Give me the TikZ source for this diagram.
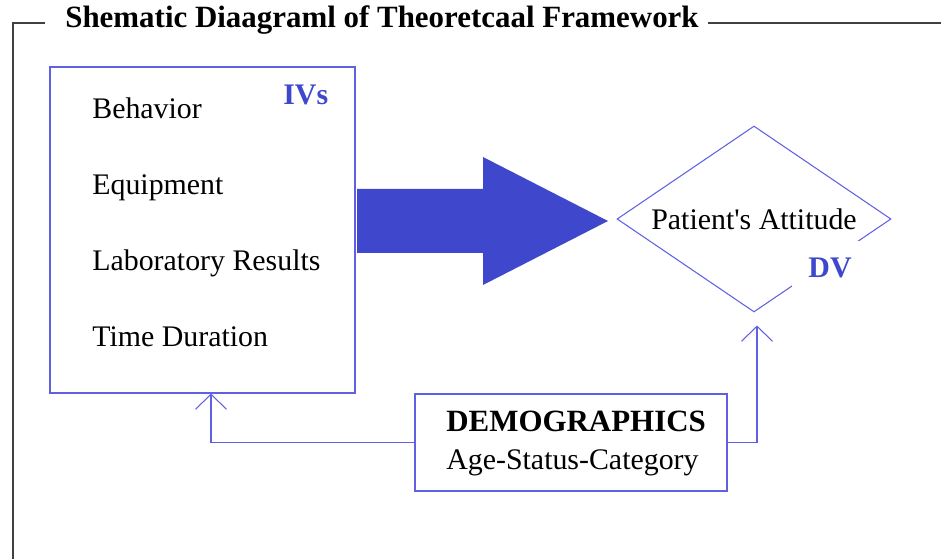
\documentclass[tikz,border=0pt]{standalone}
\usepackage{fontspec}
\setmainfont{Liberation Serif}
\usetikzlibrary{arrows.meta, shapes.geometric}

\newcommand*{\bodyfont}{\fontsize{17}{20}\selectfont}
\newcommand*{\headfont}{\fontsize{17.6}{20}\selectfont\bfseries}

\definecolor{ivblue}{RGB}{63,72,204}
\definecolor{lineblue}{RGB}{96,96,226}

\tikzstyle{box} = [draw=lineblue, line width=0.6pt, rectangle, inner sep=0pt]
\tikzstyle{entry} = [anchor=base west, inner sep=0pt]
\tikzstyle{tag} = [entry, font=\bodyfont\bfseries, text=ivblue]
\tikzstyle{feed} = [draw=lineblue, line width=0.6pt, -{Straight Barb[length=3mm, width=6.2mm]}]
\tikzstyle{frame} = [line width=0.4mm, draw=black!75]

\begin{document}
\begin{tikzpicture}[x=2mm, y=-2mm, every node/.style={font=\bodyfont}]
    \useasboundingbox (0, 0) rectangle (94.1, 55.9);

    % Frame with its title.
    \node (title) [entry, font=\headfont] at (6.5, 2.8) {Shematic Diaagraml of Theoretcaal Framework};
    \draw [frame] (4.5, 2.3) -- (1.27, 2.3) -- (1.27, 55.9);
    \draw [frame] (70.8, 2.3) -- (94.1, 2.3);

    % Independent variables.
    \node (ivs) [box, minimum width=61mm, minimum height=65.2mm] at (20.25, 23) {};
    \foreach \name/\what [count=\i] in {behavior/Behavior, equipment/Equipment,
            lab/Laboratory Results, duration/Time Duration}
        \node (\name) [entry] at (9.2, {11.9 + 7.6*(\i - 1)}) {\what};
    \node (iv tag) [tag] at (28.3, 10.5) {IVs};

    % Dependent variable.
    \node (attitude) [diamond, draw=lineblue, line width=0.6pt, aspect=1.47, inner sep=0pt,
        minimum width=54.8mm, minimum height=37.2mm] at (75.4, 21.9) {Patient\textquotesingle s Attitude};
    \node (dv tag) [tag, anchor=center, fill=white, minimum width=15.2mm, minimum height=10.8mm]
        at (83.0, 26.8) {DV};

    % Big arrow IVs -> DV.
    \fill [ivblue] (35.7, 18.9) -- (48.3, 18.9) -- (48.3, 15.7) -- (60.8, 22.1)
        -- (48.3, 28.5) -- (48.3, 25.3) -- (35.7, 25.3) -- cycle;

    % Demographics.
    \node (demo) [box, minimum width=62.4mm, minimum height=19.4mm] at (57.1, 44.25) {};
    \node (demo head) [entry, font=\headfont] at (44.6, 43.2) {DEMOGRAPHICS};
    \node (demo sub) [entry] at (44.6, 47.0) {Age-Status-Category};

    % Paths.
    \draw [feed] (demo.west) -| ([xshift=1.7mm]ivs.south);
    \draw [feed] (demo.east) -| ([xshift=0.6mm, yshift=-2.6mm]attitude.south);
\end{tikzpicture}
\end{document}
